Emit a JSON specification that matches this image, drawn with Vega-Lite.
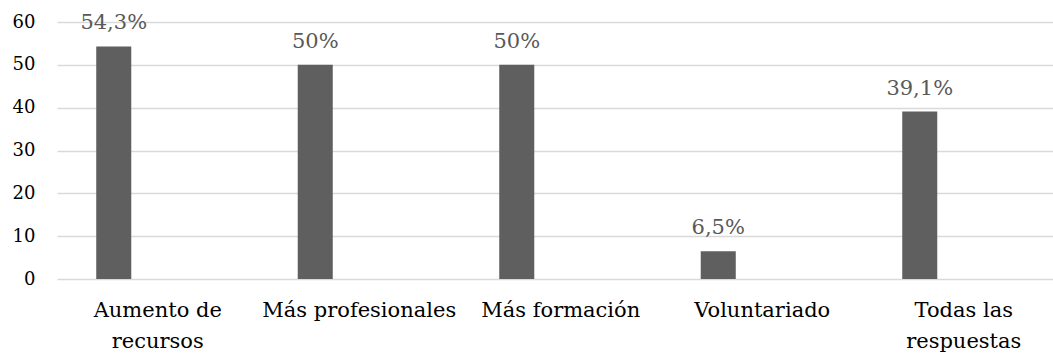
{
  "$schema": "https://vega.github.io/schema/vega-lite/v6.json",
  "autosize": "none",
  "width": 996,
  "height": 257,
  "padding": {"left": 57, "top": 22, "right": 0, "bottom": 74},
  "background": "white",
  "config": {
    "view": {"stroke": null},
    "font": "DejaVu Serif"
  },
  "data": {
    "values": [
      {"medida": "Aumento de recursos", "serie": "S1", "porcentaje": 54.3, "etiqueta": "54,3%"},
      {"medida": "Más profesionales", "serie": "S1", "porcentaje": 50, "etiqueta": "50%"},
      {"medida": "Más formación", "serie": "S1", "porcentaje": 50, "etiqueta": "50%"},
      {"medida": "Voluntariado", "serie": "S1", "porcentaje": 6.5, "etiqueta": "6,5%"},
      {"medida": "Todas las respuestas", "serie": "S1", "porcentaje": 39.1, "etiqueta": "39,1%"}
    ]
  },
  "encoding": {
    "x": {
      "field": "medida",
      "type": "nominal",
      "sort": null,
      "scale": {"range": [0, 1007.5], "paddingInner": 0, "paddingOuter": 0},
      "axis": {
        "title": null,
        "labelAngle": 0,
        "domain": false,
        "ticks": false,
        "labelFont": "DejaVu Serif",
        "labelFontSize": 21,
        "labelColor": "#000000",
        "labelPadding": 20,
        "labelBaseline": "top",
        "labelLineHeight": 31,
        "labelLimit": 300,
        "labelExpr": "datum.label == 'Aumento de recursos' ? ['Aumento de', 'recursos'] : datum.label == 'Todas las respuestas' ? ['Todas las', 'respuestas'] : datum.label"
      }
    },
    "xOffset": {
      "field": "serie",
      "type": "nominal",
      "scale": {"domain": ["S1", "S2"], "paddingInner": 0.602, "paddingOuter": 0.446}
    },
    "y": {
      "field": "porcentaje",
      "type": "quantitative",
      "scale": {"domain": [0, 60], "nice": false},
      "axis": {
        "title": null,
        "values": [0, 10, 20, 30, 40, 50, 60],
        "domain": false,
        "ticks": false,
        "grid": true,
        "gridColor": "#d9d9d9",
        "gridWidth": 1.3,
        "labelFont": "DejaVu Serif",
        "labelFontSize": 18,
        "labelColor": "#000000",
        "labelPadding": 22
      }
    }
  },
  "layer": [
    {
      "mark": {"type": "bar", "color": "#5f5f5f"}
    },
    {
      "mark": {
        "type": "text",
        "font": "DejaVu Serif",
        "fontSize": 21,
        "color": "#595959",
        "baseline": "alphabetic",
        "dy": -17
      },
      "encoding": {
        "text": {"field": "etiqueta"}
      }
    }
  ]
}
